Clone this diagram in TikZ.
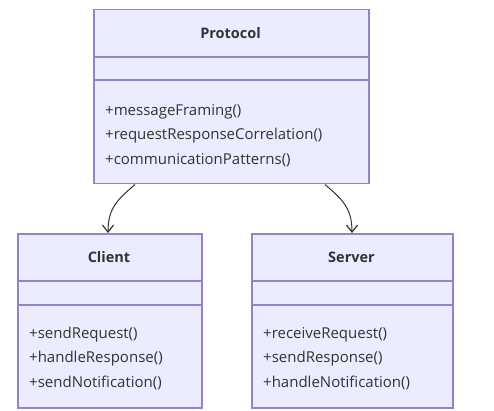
\documentclass[tikz,border=0pt]{standalone}
\usepackage{fontspec}
\setmainfont{Open Sans}
\usetikzlibrary{arrows.meta,calc}
\definecolor{boxfill}{HTML}{ECECFF}
\definecolor{boxline}{HTML}{9482CF}
\definecolor{txt}{HTML}{333333}
\tikzset{
  classbox/.style={draw=boxline, fill=boxfill, line width=1.5pt, rectangle, inner sep=0pt, anchor=north west},
  title/.style={font=\fontsize{14.5}{17}\selectfont\bfseries, text=txt, inner sep=0pt},
  member/.style={font=\fontsize{15}{17}\selectfont, text=txt, inner sep=0pt, anchor=west},
  divider/.style={draw=boxline, line width=1.5pt},
  link/.style={draw=txt, line width=1pt, -{Straight Barb[length=7pt,width=11pt,line width=1.2pt]}},
}
\begin{document}
\begin{tikzpicture}[x=1pt,y=-1pt]
\useasboundingbox (0,0) rectangle (494,411);
% Protocol
\node[classbox, minimum width=275, minimum height=174] (protocol) at (93,9) {};
\node[title] (ptitle) at (230.5,33) {Protocol};
\draw[divider] (93,57) -- (368,57);
\draw[divider] (93,80) -- (368,80);
\node[member] (p1) at (105,112) {+messageFraming()};
\node[member] (p2) at (105,136) {+requestResponseCorrelation()};
\node[member] (p3) at (105,160) {+communicationPatterns()};
% Client
\node[classbox, minimum width=184, minimum height=174] (client) at (17,233) {};
\node[title] (ctitle) at (109,257) {Client};
\draw[divider] (17,281) -- (201,281);
\draw[divider] (17,305) -- (201,305);
\node[member] (c1) at (29,335) {+sendRequest()};
\node[member] (c2) at (29,359) {+handleResponse()};
\node[member] (c3) at (29,383) {+sendNotification()};
% Server
\node[classbox, minimum width=201, minimum height=174] (server) at (251,233) {};
\node[title] (stitle) at (351.5,257) {Server};
\draw[divider] (251,281) -- (452,281);
\draw[divider] (251,305) -- (452,305);
\node[member] (s1) at (263,335) {+receiveRequest()};
\node[member] (s2) at (263,359) {+sendResponse()};
\node[member] (s3) at (263,383) {+handleNotification()};
% connectors
\coordinate (pl) at ($(protocol.south west)+(42,0)$);
\coordinate (pr) at ($(protocol.south west)+(232,0)$);
\coordinate (ct) at ($(client.north west)+(91,0)$);
\coordinate (st) at ($(server.north west)+(101,0)$);
\draw[link] (pl) .. controls ($(pl)+(-16,14)$) and ($(ct)+(0,-26)$) .. (ct);
\draw[link] (pr) .. controls ($(pr)+(16,14)$) and ($(st)+(0,-26)$) .. (st);
\end{tikzpicture}
\end{document}
